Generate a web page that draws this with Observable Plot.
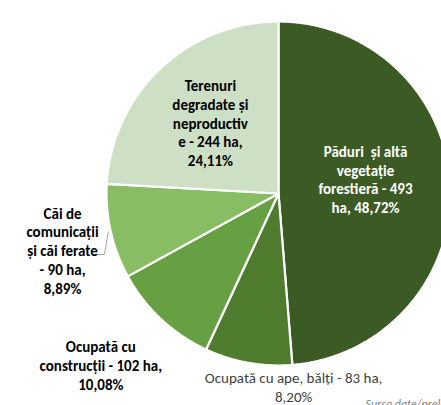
<!DOCTYPE html>
<html>
<head>
<meta charset="utf-8">
<script src="https://cdn.jsdelivr.net/npm/d3@7"></script>
<script src="https://cdn.jsdelivr.net/npm/@observablehq/plot@0.6"></script>
<style>
  html, body { margin: 0; padding: 0; background: #fff; overflow: hidden; }
  #chart svg { display: block; }
</style>
</head>
<body>
<div id="chart"></div>
<script>
// ---- data ----
const categories = [
  "Păduri  și altă vegetație forestieră",
  "Ocupată cu ape, bălți",
  "Ocupată cu construcții",
  "Căi de comunicații și căi ferate",
  "Terenuri degradate și neproductive"
];
const hectares = [493, 83, 102, 90, 244];
const percents = ["48,72%", "8,20%", "10,08%", "8,89%", "24,11%"];
const labelTexts = [
  "Păduri  și altă\nvegetație\nforestieră - 493\nha, 48,72%",
  "Ocupată cu ape, bălți - 83 ha,\n8,20%",
  "Ocupată cu\nconstrucții - 102 ha,\n10,08%",
  "Căi de\ncomunicații\nși căi ferate\n- 90 ha,\n8,89%",
  "Terenuri\ndegradate și\nneproductiv\ne - 244 ha,\n24,11%"
];

// ---- styles / layout ----
const colors = ["#3b5a24", "#4f7c2f", "#67a043", "#89bd63", "#cddfc5"];
const labelStyle = [
  {fill: "#ffffff", weight: 600, r: 0.513, nudge: -7.2},
  {fill: "#404040", weight: 400, r: 1.127, nudge: -14.6},
  {fill: "#000000", weight: 700, r: 1.435, nudge: 3.0},
  {fill: "#000000", weight: 700, r: 1.298, nudge: -1.9},
  {fill: "#000000", weight: 700, r: 0.572, nudge: -0.4}
];
const W = 441, H = 405, CX = 278, CY = 193, R = 172;

const arcs = d3.pie().sort(null).value(d => d)(hectares);
const polar = (a, r) => ({x: r * Math.sin(a), y: r * Math.cos(a)});

// slice polygons
const pts = [];
arcs.forEach((a, i) => {
  pts.push({i, ...polar(0, 0), color: colors[i]});
  const n = Math.max(2, Math.ceil((a.endAngle - a.startAngle) / 0.01));
  for (let k = 0; k <= n; k++) {
    const ang = a.startAngle + (a.endAngle - a.startAngle) * k / n;
    pts.push({i, ...polar(ang, 1), color: colors[i]});
  }
  pts.push({i, ...polar(0, 0), color: colors[i]});
});

// labels
const labels = arcs.map((a, i) => {
  const mid = (a.startAngle + a.endAngle) / 2 + labelStyle[i].nudge * Math.PI / 180;
  return {...polar(mid, labelStyle[i].r), text: labelTexts[i], fill: labelStyle[i].fill, weight: labelStyle[i].weight};
});

// leader line for "Căi de comunicații"
const ca = arcs[3];
const cmid = (ca.startAngle + ca.endAngle) / 2;
const p1 = polar(cmid, 1.015);
const p2 = polar(cmid - 6.5 * Math.PI / 180, 1.072);
const leader = [p1, p2, {x: p2.x - 8 / R, y: p2.y}];

const chart = Plot.plot({
  width: W,
  height: H,
  margin: 0,
  x: {domain: [-CX / R, (W - CX) / R], axis: null},
  y: {domain: [-(H - CY) / R, CY / R], axis: null},
  color: {type: "identity"},
  style: {fontFamily: "Carlito, Calibri, Lato, sans-serif", background: "#fff"},
  marks: [
    Plot.line(pts, {x: "x", y: "y", z: "i", fill: "color", stroke: "#ffffff", strokeWidth: 2.2, strokeLinejoin: "round", curve: "linear"}),
    Plot.line(leader, {x: "x", y: "y", stroke: "#a6a6a6", strokeWidth: 1}),
    ...labels.map(l => Plot.text([l], {x: "x", y: "y", text: "text", fill: l.fill, fontWeight: l.weight, fontSize: 15, lineHeight: 1.25})),
    Plot.text(["Sursa date/prelucrare"], {frameAnchor: "bottom-left", dx: 365, dy: 2, text: d => d, fill: "#7f7f7f", fontStyle: "italic", fontSize: 12, textAnchor: "start"})
  ]
});
document.getElementById("chart").appendChild(chart);
</script>
</body>
</html>
